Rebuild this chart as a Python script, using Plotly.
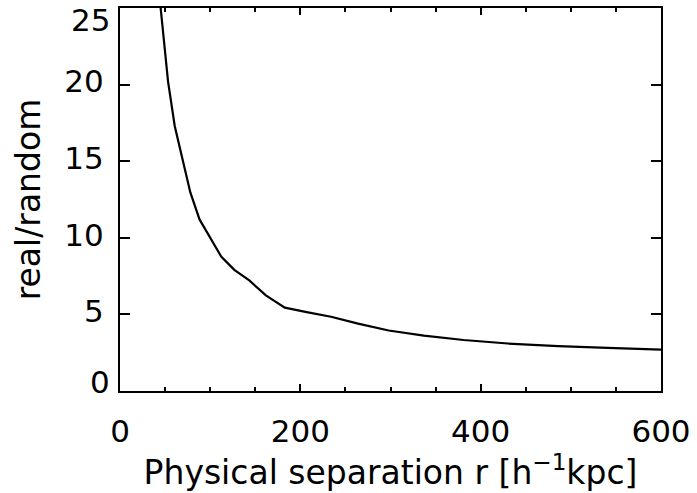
import plotly.graph_objects as go

# Data
r_kpc = [42, 53.3, 60.7, 78, 88.2, 99.3, 112.2, 126.8, 143.4, 161.8, 182.8,
         207, 234, 264, 298, 337, 381, 430, 486, 549, 620]
ratio = [26.8, 20.2, 17.3, 12.96, 11.2, 10.1, 8.78, 7.91, 7.22, 6.24, 5.44,
         5.15, 4.85, 4.4, 3.95, 3.62, 3.33, 3.1, 2.93, 2.8, 2.66]

x_ticks = [0, 200, 400, 600]
x_ticklabels = ["0", "200", "400", "600"]
y_ticks = [5, 10, 15, 20]
y_ticklabels = ["5", "10", "15", "20"]
y_end_ticks = [0, 25]
y_end_labels = ["0", "25"]

FONT = "DejaVu Sans"

fig = go.Figure()
fig.add_trace(go.Scatter(x=r_kpc, y=ratio, mode="lines",
                         line=dict(color="black", width=2.2), showlegend=False))

fig.update_layout(
    width=697, height=493,
    margin=dict(l=120, r=33, t=6, b=102),
    paper_bgcolor="white", plot_bgcolor="white",
    font=dict(family=FONT, color="black", size=31),
)
fig.update_xaxes(
    range=[0, 600], tickvals=x_ticks, ticktext=x_ticklabels,
    showgrid=False, zeroline=False,
    showline=True, linecolor="black", linewidth=2, mirror="ticks",
    ticks="inside", ticklen=7, tickwidth=1.5, tickcolor="black",
    minor=dict(dtick=50, ticks="inside", ticklen=4, tickwidth=1.5, tickcolor="black", showgrid=False),
    tickfont=dict(size=31), ticklabelstandoff=12,
    title=dict(text="Physical separation r [h<sup>\u22121</sup>kpc]", font=dict(size=33), standoff=8),
)
fig.update_yaxes(
    range=[0, 25], tickvals=y_ticks, ticktext=y_ticklabels,
    showgrid=False, zeroline=False,
    showline=True, linecolor="black", linewidth=2, mirror="ticks",
    ticks="inside", ticklen=10, tickwidth=1.5, tickcolor="black",
    tickfont=dict(size=31), ticklabelstandoff=8, ticklabelshift=-3,
    title=dict(text="real/random", font=dict(size=33), standoff=14),
)
# End labels of the y axis are shifted inwards as in the reference
for val, lab, shift in zip(y_end_ticks, y_end_labels, [9, -12]):
    fig.add_annotation(x=0, y=val, xref="paper", yref="y", text=lab, showarrow=False,
                       xanchor="right", yanchor="middle", xshift=-8, yshift=shift,
                       font=dict(size=31, family=FONT, color="black"))

fig.write_html("out.html")
